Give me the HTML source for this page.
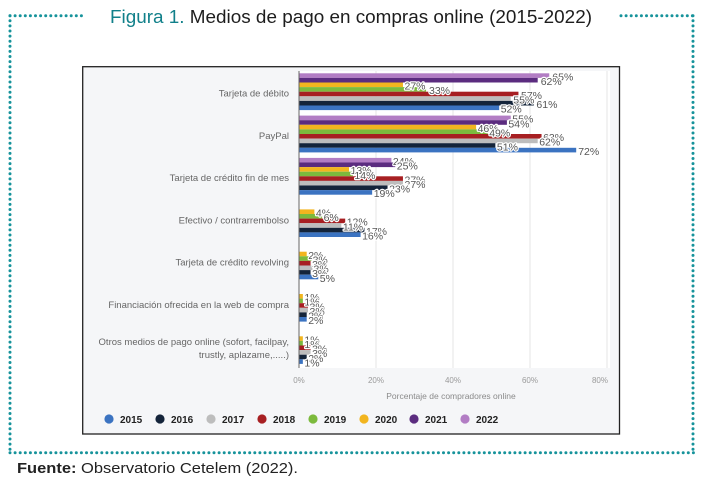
<!DOCTYPE html>
<html><head><meta charset="utf-8"><style>
html,body{margin:0;padding:0;background:#fff;}
svg{display:block;}
.cat{font-family:"Liberation Sans",Arial,sans-serif;font-size:9.5px;fill:#666;}
.val{font-family:"Liberation Sans",Arial,sans-serif;font-size:10.5px;fill:#555;stroke:#fff;stroke-width:2.4px;paint-order:stroke;stroke-linejoin:round;}
.tick{font-family:"Liberation Sans",Arial,sans-serif;font-size:8px;fill:#9a9a9a;}
.leg{font-family:"Liberation Sans",Arial,sans-serif;font-size:10px;font-weight:bold;fill:#222;}
</style></head><body>
<svg width="703" height="487" viewBox="0 0 703 487" xmlns="http://www.w3.org/2000/svg">
<rect width="703" height="487" fill="#fff"/>
<g stroke="#16939b" stroke-width="3" stroke-dasharray="0 5.1" stroke-linecap="round" fill="none">
<line x1="10" y1="15.7" x2="84" y2="15.7"/>
<line x1="621" y1="15.7" x2="693" y2="15.7"/>
<line x1="10" y1="15.7" x2="10" y2="452.7"/>
<line x1="693" y1="15.7" x2="693" y2="452.7"/>
<line x1="10" y1="452.7" x2="694" y2="452.7"/>
</g>
<text x="110" y="23" font-family="Liberation Sans, Arial, sans-serif" font-size="18" fill="#1d1d1d" textLength="482" lengthAdjust="spacingAndGlyphs"><tspan fill="#11808a">Figura 1.</tspan> Medios de pago en compras online (2015-2022)</text>

<rect x="82.7" y="66.7" width="536.8" height="367.3" fill="#f5f6f8" stroke="#222" stroke-width="1.3"/>
<rect x="299" y="71" width="311" height="297" fill="#ffffff"/>
<g stroke="#e4e4e4" stroke-width="1">
<line x1="376" y1="71" x2="376" y2="368"/>
<line x1="453" y1="71" x2="453" y2="368"/>
<line x1="530" y1="71" x2="530" y2="368"/>
<line x1="607" y1="71" x2="607" y2="368"/>
</g>

<g class="cat" text-anchor="end">
<text x="289" y="96.5">Tarjeta de débito</text>
<text x="289" y="138.8">PayPal</text>
<text x="289" y="181.1">Tarjeta de crédito fin de mes</text>
<text x="289" y="223.4">Efectivo / contrarrembolso</text>
<text x="289" y="265.7">Tarjeta de crédito revolving</text>
<text x="289" y="308">Financiación ofrecida en la web de compra</text>
<text x="289" y="345">Otros medios de pago online (sofort, facilpay,</text>
<text x="289" y="358">trustly, aplazame,.....)</text>
</g>

<g>
<rect x="299" y="73.3" width="250.25" height="4.6" fill="#b27dc4"/>
<rect x="299" y="77.9" width="238.7" height="4.6" fill="#5b2c7f"/>
<rect x="299" y="82.5" width="103.95" height="4.6" fill="#f2b51f"/>
<rect x="299" y="87.1" width="127.05" height="4.6" fill="#7cba3d"/>
<rect x="299" y="91.7" width="219.45" height="4.6" fill="#a71f22"/>
<rect x="299" y="96.3" width="211.75" height="4.6" fill="#bdbdbd"/>
<rect x="299" y="100.9" width="234.85" height="4.6" fill="#14243a"/>
<rect x="299" y="105.5" width="200.2" height="4.6" fill="#3b73c1"/>
<rect x="299" y="115.6" width="211.75" height="4.6" fill="#b27dc4"/>
<rect x="299" y="120.2" width="207.9" height="4.6" fill="#5b2c7f"/>
<rect x="299" y="124.8" width="177.1" height="4.6" fill="#f2b51f"/>
<rect x="299" y="129.4" width="188.65" height="4.6" fill="#7cba3d"/>
<rect x="299" y="134.0" width="242.55" height="4.6" fill="#a71f22"/>
<rect x="299" y="138.6" width="238.7" height="4.6" fill="#bdbdbd"/>
<rect x="299" y="143.2" width="196.35" height="4.6" fill="#14243a"/>
<rect x="299" y="147.8" width="277.2" height="4.6" fill="#3b73c1"/>
<rect x="299" y="157.9" width="92.4" height="4.6" fill="#b27dc4"/>
<rect x="299" y="162.5" width="96.25" height="4.6" fill="#5b2c7f"/>
<rect x="299" y="167.1" width="50.05" height="4.6" fill="#f2b51f"/>
<rect x="299" y="171.7" width="53.9" height="4.6" fill="#7cba3d"/>
<rect x="299" y="176.3" width="103.95" height="4.6" fill="#a71f22"/>
<rect x="299" y="180.9" width="103.95" height="4.6" fill="#bdbdbd"/>
<rect x="299" y="185.5" width="88.55" height="4.6" fill="#14243a"/>
<rect x="299" y="190.1" width="73.15" height="4.6" fill="#3b73c1"/>
<rect x="299" y="209.4" width="15.4" height="4.6" fill="#f2b51f"/>
<rect x="299" y="214.0" width="23.1" height="4.6" fill="#7cba3d"/>
<rect x="299" y="218.6" width="46.2" height="4.6" fill="#a71f22"/>
<rect x="299" y="223.2" width="42.35" height="4.6" fill="#bdbdbd"/>
<rect x="299" y="227.8" width="65.45" height="4.6" fill="#14243a"/>
<rect x="299" y="232.4" width="61.6" height="4.6" fill="#3b73c1"/>
<rect x="299" y="251.7" width="7.7" height="4.6" fill="#f2b51f"/>
<rect x="299" y="256.3" width="12.5" height="4.6" fill="#7cba3d"/>
<rect x="299" y="260.9" width="11.55" height="4.6" fill="#a71f22"/>
<rect x="299" y="265.5" width="13.5" height="4.6" fill="#bdbdbd"/>
<rect x="299" y="270.1" width="11.55" height="4.6" fill="#14243a"/>
<rect x="299" y="274.7" width="19.25" height="4.6" fill="#3b73c1"/>
<rect x="299" y="294.0" width="3.85" height="4.6" fill="#f2b51f"/>
<rect x="299" y="298.6" width="3.85" height="4.6" fill="#7cba3d"/>
<rect x="299" y="303.2" width="9" height="4.6" fill="#a71f22"/>
<rect x="299" y="307.8" width="9" height="4.6" fill="#bdbdbd"/>
<rect x="299" y="312.4" width="7.7" height="4.6" fill="#14243a"/>
<rect x="299" y="317.0" width="7.7" height="4.6" fill="#3b73c1"/>
<rect x="299" y="336.3" width="3.85" height="4.6" fill="#f2b51f"/>
<rect x="299" y="340.9" width="3.85" height="4.6" fill="#7cba3d"/>
<rect x="299" y="345.5" width="11.55" height="4.6" fill="#a71f22"/>
<rect x="299" y="350.1" width="11.55" height="4.6" fill="#bdbdbd"/>
<rect x="299" y="354.7" width="7.7" height="4.6" fill="#14243a"/>
<rect x="299" y="359.3" width="3.85" height="4.6" fill="#3b73c1"/>
</g>
<line x1="299" y1="71" x2="299" y2="368" stroke="#666" stroke-width="1"/>

<g class="val">
<text x="552.3" y="80.4">65%</text>
<text x="540.7" y="85.0">62%</text>
<text x="404.5" y="89.6">27%</text>
<text x="429" y="94.2">33%</text>
<text x="521" y="98.8">57%</text>
<text x="513.3" y="103.4">55%</text>
<text x="536.4" y="108.0">61%</text>
<text x="500.7" y="112.6">52%</text>
<text x="512.3" y="122.7">55%</text>
<text x="508.4" y="127.3">54%</text>
<text x="477.6" y="131.9">46%</text>
<text x="489.2" y="136.5">49%</text>
<text x="543.1" y="141.1">63%</text>
<text x="539.2" y="145.7">62%</text>
<text x="496.9" y="150.3">51%</text>
<text x="578.2" y="154.9">72%</text>
<text x="392.9" y="165.0">24%</text>
<text x="396.8" y="169.6">25%</text>
<text x="350.6" y="174.2">13%</text>
<text x="354.4" y="178.8">14%</text>
<text x="404.5" y="183.4">27%</text>
<text x="404.5" y="188.0">27%</text>
<text x="389.1" y="192.6">23%</text>
<text x="373.7" y="197.2">19%</text>
<text x="315.9" y="216.5">4%</text>
<text x="323.6" y="221.1">6%</text>
<text x="346.7" y="225.7">12%</text>
<text x="342.9" y="230.3">11%</text>
<text x="366" y="234.9">17%</text>
<text x="362.1" y="239.5">16%</text>
<text x="308.2" y="258.8">2%</text>
<text x="312.6" y="263.4">3%</text>
<text x="312.1" y="268.0">3%</text>
<text x="313.5" y="272.6">3%</text>
<text x="312.1" y="277.2">3%</text>
<text x="319.8" y="281.8">5%</text>
<text x="304.4" y="301.1">1%</text>
<text x="304.4" y="305.7">1%</text>
<text x="309.5" y="310.3">3%</text>
<text x="309.5" y="314.9">3%</text>
<text x="308.2" y="319.5">2%</text>
<text x="308.2" y="324.1">2%</text>
<text x="304.4" y="343.4">1%</text>
<text x="304.4" y="348.0">1%</text>
<text x="312.1" y="352.6">3%</text>
<text x="312.1" y="357.2">3%</text>
<text x="308.2" y="361.8">2%</text>
<text x="304.4" y="366.4">1%</text>
</g>

<g class="tick" text-anchor="middle">
<text x="299" y="383">0%</text>
<text x="376" y="383">20%</text>
<text x="453" y="383">40%</text>
<text x="530" y="383">60%</text>
<text x="600" y="383">80%</text>
</g>
<text x="451" y="399" text-anchor="middle" font-family="Liberation Sans, Arial, sans-serif" font-size="8.5" fill="#8a8a8a">Porcentaje de compradores online</text>

<g>
<circle cx="109" cy="419" r="4.6" fill="#3b73c1"/>
<circle cx="160" cy="419" r="4.6" fill="#14243a"/>
<circle cx="211" cy="419" r="4.6" fill="#bdbdbd"/>
<circle cx="262" cy="419" r="4.6" fill="#a71f22"/>
<circle cx="313" cy="419" r="4.6" fill="#7cba3d"/>
<circle cx="364" cy="419" r="4.6" fill="#f2b51f"/>
<circle cx="414" cy="419" r="4.6" fill="#5b2c7f"/>
<circle cx="465" cy="419" r="4.6" fill="#b27dc4"/>
</g>
<g class="leg">
<text x="120" y="422.8">2015</text>
<text x="171" y="422.8">2016</text>
<text x="222" y="422.8">2017</text>
<text x="273" y="422.8">2018</text>
<text x="324" y="422.8">2019</text>
<text x="375" y="422.8">2020</text>
<text x="425" y="422.8">2021</text>
<text x="476" y="422.8">2022</text>
</g>

<text x="17" y="473" font-family="Liberation Sans, Arial, sans-serif" font-size="14.5" fill="#222" textLength="281" lengthAdjust="spacingAndGlyphs"><tspan font-weight="bold">Fuente:</tspan> Observatorio Cetelem (2022).</text>
</svg>
</body></html>
